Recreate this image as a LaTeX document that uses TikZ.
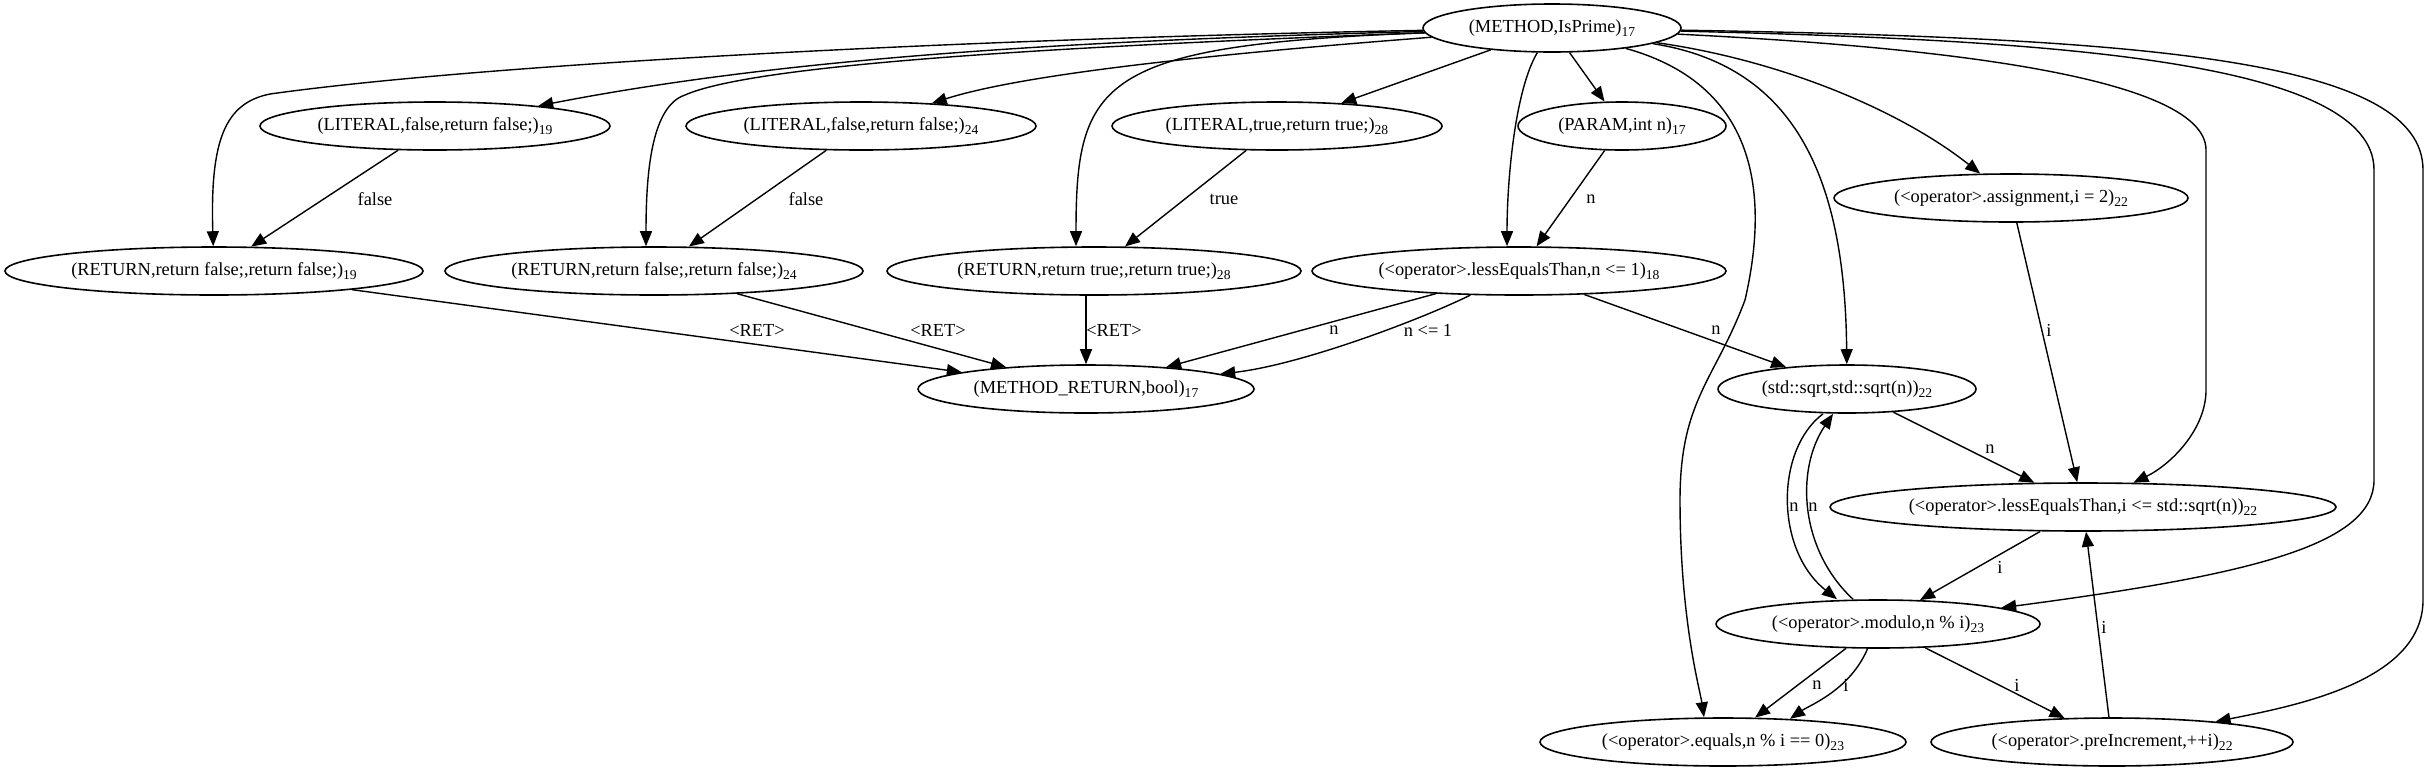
\documentclass[tikz,border=0pt]{standalone}
\usepackage{fontspec}
\setmainfont{Liberation Serif}
\usetikzlibrary{shapes.geometric,arrows.meta}
\newcommand\sbsc[1]{\raisebox{-1.8pt}{\fontsize{6.8}{8}\selectfont #1}}
\begin{document}
\begin{tikzpicture}[x=0.5pt,y=-0.5pt,
  nd/.style={draw, ellipse, inner sep=0pt, line width=0.8pt, minimum height=24pt, minimum width=#1,
             font=\fontsize{9.2}{11}\selectfont},
  lbl/.style={inner sep=0pt, font=\fontsize{9.2}{11}\selectfont},
  arr/.style={-{Triangle[length=7.5pt,width=6pt]}, line width=0.7pt}]
\useasboundingbox (0,0) rectangle (2430,772);
% nodes
\node[nd=129pt] (M)   at (1552,28)  {(METHOD,IsPrime)\sbsc{17}};
\node[nd=175pt] (L19) at (435,126)  {(LITERAL,false,return false;)\sbsc{19}};
\node[nd=175pt] (L24) at (861,126)  {(LITERAL,false,return false;)\sbsc{24}};
\node[nd=165pt] (L28) at (1277,126) {(LITERAL,true,return true;)\sbsc{28}};
\node[nd=104pt] (P)   at (1622,126) {(PARAM,int n)\sbsc{17}};
\node[nd=177pt] (A)   at (2011,198) {(<operator>.assignment,i = 2)\sbsc{22}};
\node[nd=209pt] (R19) at (214,271)  {(RETURN,return false;,return false;)\sbsc{19}};
\node[nd=209pt] (R24) at (654,271)  {(RETURN,return false;,return false;)\sbsc{24}};
\node[nd=207pt] (R28) at (1094,271) {(RETURN,return true;,return true;)\sbsc{28}};
\node[nd=207pt] (LE1) at (1519,271) {(<operator>.lessEqualsThan,n <= 1)\sbsc{18}};
\node[nd=168pt] (MR)  at (1086,389) {(METHOD\_RETURN,bool)\sbsc{17}};
\node[nd=129pt] (S)   at (1847,389) {(std::sqrt,std::sqrt(n))\sbsc{22}};
\node[nd=253pt] (LE2) at (2083,507) {(<operator>.lessEqualsThan,i <= std::sqrt(n))\sbsc{22}};
\node[nd=162pt] (MOD) at (1878,624) {(<operator>.modulo,n \% i)\sbsc{23}};
\node[nd=183pt] (EQ)  at (1723,742) {(<operator>.equals,n \% i == 0)\sbsc{23}};
\node[nd=181pt] (PI)  at (2112,742) {(<operator>.preIncrement,++i)\sbsc{22}};
% edges from METHOD
\draw[arr] (M) .. controls (1000,38) and (500,62) .. (270,94) .. controls (225,103) and (210,140) .. (R19);
\draw[arr] (M) .. controls (1100,40) and (800,55) .. (L19);
\draw[arr] (M) .. controls (1100,45) and (760,62) .. (685,95) .. controls (652,106) and (646,170) .. ([xshift=-4pt]R24.north);
\draw[arr] (M) .. controls (1200,55) and (1020,75) .. (L24);
\draw[arr] (M) .. controls (1100,45) and (1076,80) .. ([xshift=-9pt]R28.north);
\draw[arr] (M) -- (L28);
\draw[arr] (M) -- (P);
\draw[arr] (M) .. controls (1515,90) and (1507,180) .. ([xshift=-6pt]LE1.north);
\draw[arr] (M) .. controls (1780,60) and (1900,110) .. (A);
\draw[arr] (M) .. controls (1790,65) and (1845,170) .. (S);
\draw[arr] (M) .. controls (1740,80) and (1775,170) .. (1745,300) .. controls (1715,380) and (1680,400) .. (1680,500) .. controls (1680,620) and (1700,690) .. ([xshift=-9.5pt]EQ.north);
\draw[arr] (M) .. controls (1900,45) and (2206,72) .. (2206,150) -- (2206,390) .. controls (2206,430) and (2170,465) .. (LE2);
\draw[arr] (M) .. controls (2050,40) and (2374,60) .. (2374,170) -- (2374,480) .. controls (2374,545) and (2250,575) .. (MOD);
\draw[arr] (M) .. controls (2150,38) and (2423,60) .. (2423,170) -- (2423,600) .. controls (2423,680) and (2300,705) .. (PI);
% other edges
\draw[arr] (L19) -- (R19);
\draw[arr] (L24) -- (R24);
\draw[arr] (L28) -- (R28);
\draw[arr] (P) -- (LE1);
\draw[arr] (R19) -- (MR);
\draw[arr] (R24) -- (MR);
\draw[arr] (R28.south -| MR.north) -- (MR.north);
\draw[arr] (LE1) -- (MR);
\draw[arr] (LE1) .. controls (1420,320) and (1300,365) .. (MR);
\draw[arr] (LE1) -- (S);
\draw[arr] (A) -- (LE2);
\draw[arr] (S) -- (LE2);
\draw[arr] ([xshift=-12pt]S.south) .. controls (1775,450) and (1775,550) .. ([xshift=-20.5pt]MOD.north);
\draw[arr] ([xshift=-12.5pt]MOD.north) .. controls (1800,550) and (1795,470) .. ([xshift=-7pt]S.south);
\draw[arr] (LE2) -- (MOD);
\draw[arr] (MOD) -- (EQ);
\draw[arr] (MOD) .. controls (1850,690) and (1810,705) .. ([xshift=33.5pt,yshift=-0.8pt]EQ.north);
\draw[arr] (MOD) -- (PI);
\draw[arr] (PI) -- (LE2);
% labels
\node[lbl] (t1)  at (375,199)  {false};
\node[lbl] (t2)  at (806,199)  {false};
\node[lbl] (t3)  at (1224,199) {true};
\node[lbl] (t4)  at (1591,199) {n};
\node[lbl] (t5)  at (757,330)  {<RET>};
\node[lbl] (t6)  at (938,330)  {<RET>};
\node[lbl] (t7)  at (1114,330) {<RET>};
\node[lbl] (t8)  at (1334,330) {n};
\node[lbl] (t9)  at (1428,330) {n <= 1};
\node[lbl] (t10) at (1716,330) {n};
\node[lbl] (t11) at (2049,330) {i};
\node[lbl] (t12) at (1990,449) {n};
\node[lbl] (t13) at (1794,507) {n};
\node[lbl] (t14) at (1813,507) {n};
\node[lbl] (t15) at (2000,567) {i};
\node[lbl] (t16) at (1817,685) {n};
\node[lbl] (t17) at (1846,685) {i};
\node[lbl] (t18) at (2017,685) {i};
\node[lbl] (t19) at (2104,627) {i};
\end{tikzpicture}
\end{document}
